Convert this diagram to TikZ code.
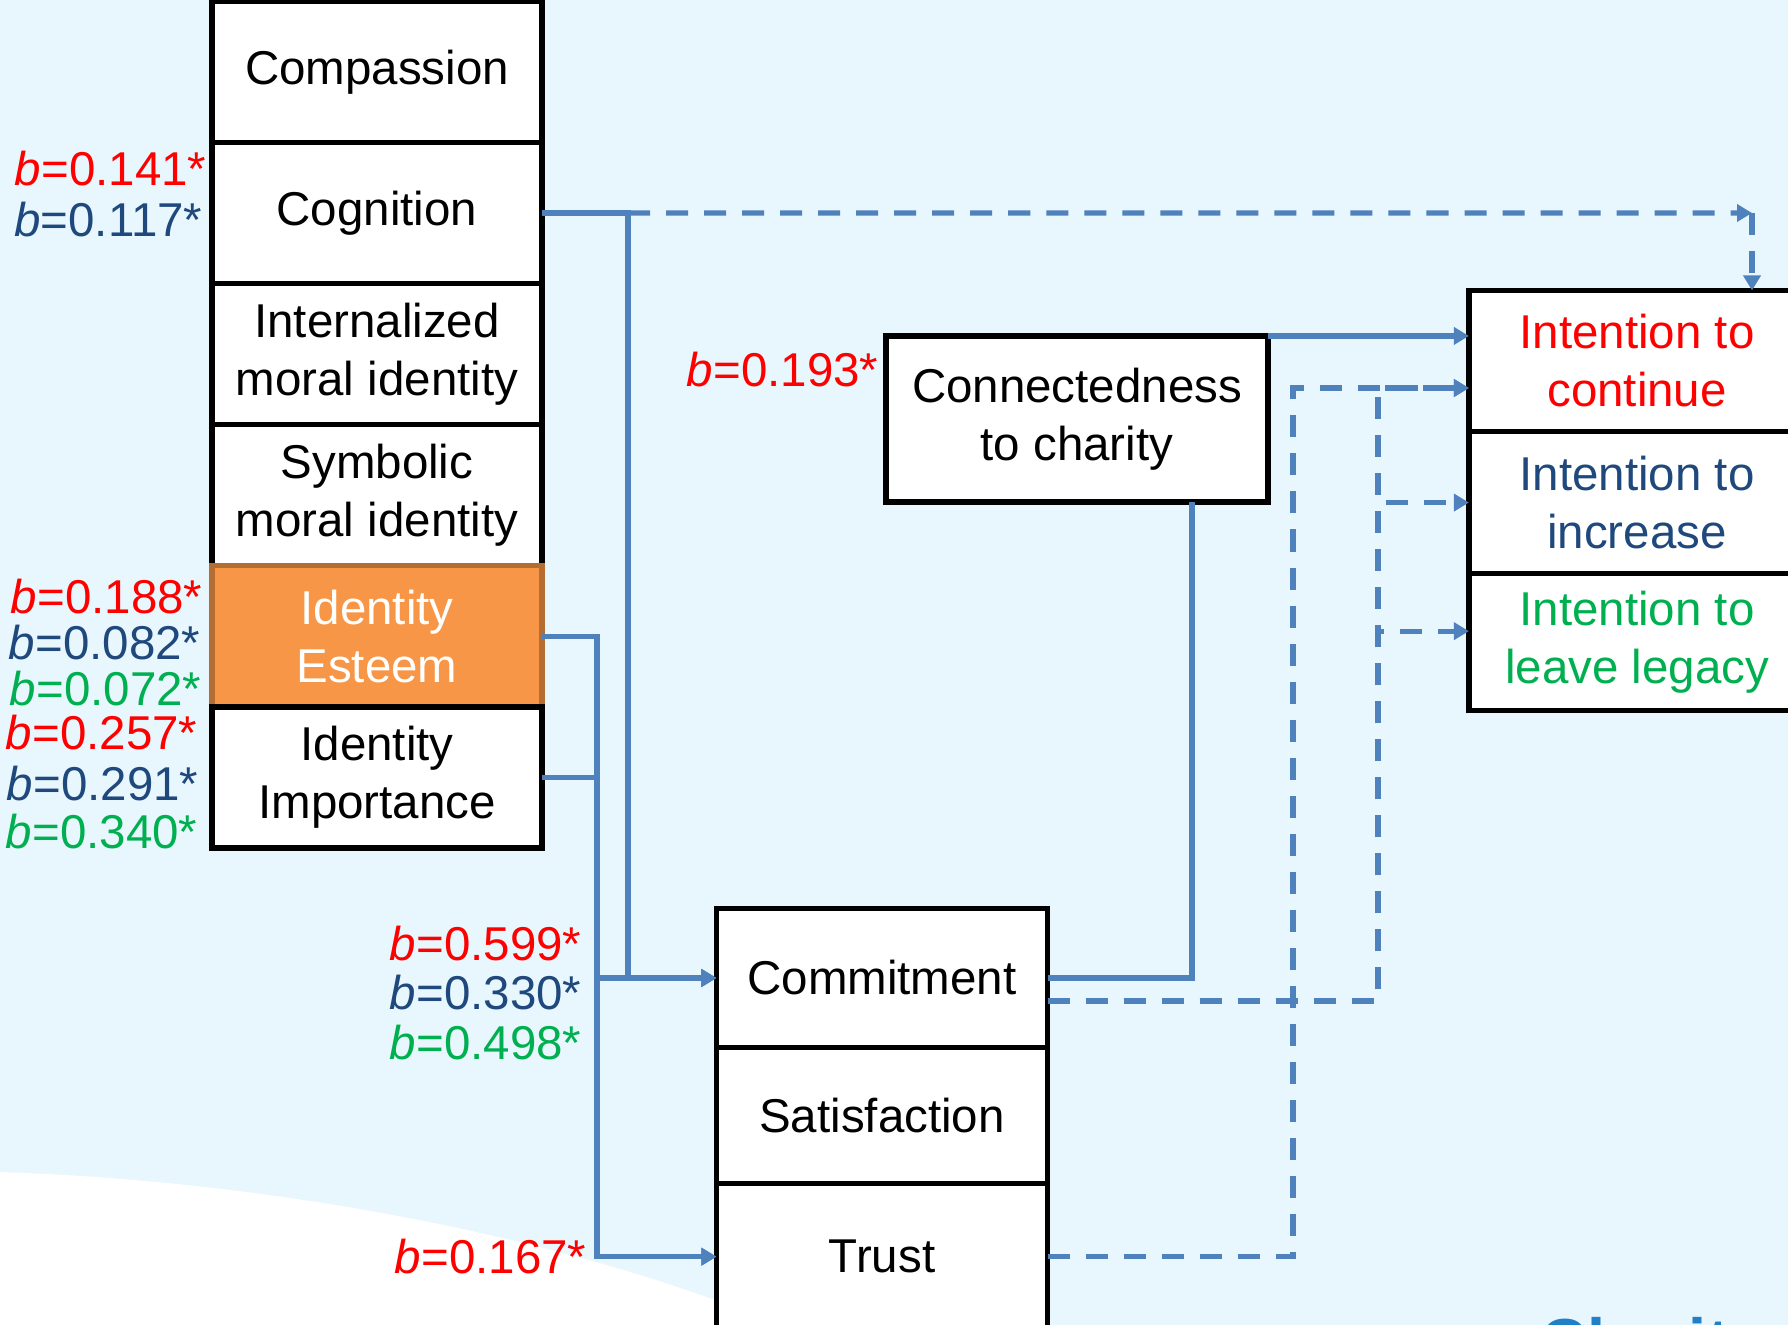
\documentclass[tikz,border=0pt]{standalone}
\usepackage{fontspec}
\setmainfont{Liberation Sans}
\usetikzlibrary{positioning}
\usetikzlibrary{arrows.meta}

\definecolor{bred}{HTML}{FF0000}
\definecolor{bblue}{HTML}{1F497D}
\definecolor{bgreen}{HTML}{00B050}
\definecolor{linkblue}{HTML}{4F81BD}
\definecolor{esteemfill}{HTML}{F79646}
\definecolor{esteemline}{HTML}{B66D31}
\definecolor{bgblue}{HTML}{E8F6FD}
\definecolor{titleblue}{HTML}{1F80C8}

\begin{document}
\begin{tikzpicture}[
        x=0.01cm, y=-0.01cm,
        node distance=0pt,
        factor/.style={rectangle, draw, line width=1.5pt, fill=white, outer sep=0pt, inner sep=0pt, align=center, font=\fontsize{13.5}{16.5}\selectfont},
        leftbox/.style={factor, minimum width=3.3cm, minimum height=1.41cm},
        rightbox/.style={factor, minimum width=3.36cm, minimum height=1.41cm},
        midbox/.style={factor, minimum width=3.31cm, minimum height=1.38cm},
        highlight/.style={leftbox, fill=esteemfill, draw=esteemline, text=white},
        coef/.style={anchor=east, inner sep=0pt, font=\fontsize{13.5}{16}\selectfont},
        link/.style={draw=linkblue, line width=1.5pt},
        linkarrow/.style={link, -{Triangle[length=0.15cm,width=0.17cm]}},
        dashlink/.style={linkarrow, dash pattern=on 0.22cm off 0.16cm}
    ]
        \useasboundingbox (0,0) rectangle (1788,1325);
        \clip (0,0) rectangle (1788,1325);
        \fill[bgblue] (0,0) rectangle (1788,1325);
        \fill[white] (0,1172) .. controls (250,1180) and (550,1230) .. (780,1325) -- (0,1325) -- cycle;
        \node[anchor=base west, inner sep=0pt, text=titleblue, font=\fontsize{18.5}{20}\selectfont\bfseries] (brand) at (1540,1364) {Charity};

        % left column
        \node[leftbox] (compassion) at (377,72) {Compassion};
        \node[leftbox, below=of compassion] (cog) {Cognition};
        \node[leftbox, below=of cog] (intmoral) {Internalized\\moral identity};
        \node[leftbox, below=of intmoral] (symmoral) {Symbolic\\moral identity};
        \node[highlight, below=of symmoral] (est) {Identity\\Esteem};
        \node[leftbox, below=of est] (imp) {Identity\\Importance};

        % middle
        \node[factor, minimum width=3.82cm, minimum height=1.66cm] (conn) at (1077,419) {Connectedness\\to charity};
        \node[midbox, minimum height=1.39cm] (commit) at (882,978) {Commitment};
        \node[midbox, minimum height=1.36cm, below=of commit] (satis) {Satisfaction};
        \node[midbox, minimum height=1.46cm, below=of satis] (trust) {Trust};

        % outcomes
        \node[rightbox, text=bred] (cont) at (1637,361) {Intention to\\continue};
        \node[rightbox, minimum height=1.42cm, text=bblue, below=of cont] (incr) {Intention to\\increase};
        \node[rightbox, minimum height=1.37cm, text=bgreen, below=of incr] (legacy) {Intention to\\leave legacy};

        % coefficients
        \node[coef, text=bred] (c141) at (207,169) {\textit{b}=0.141*};
        \node[coef, text=bblue] (c117) at (203,220) {\textit{b}=0.117*};
        \node[coef, text=bred] (c188) at (203,597) {\textit{b}=0.188*};
        \node[coef, text=bblue] (c082) at (201,643) {\textit{b}=0.082*};
        \node[coef, text=bgreen] (c072) at (202,689) {\textit{b}=0.072*};
        \node[coef, text=bred] (c257) at (198,733) {\textit{b}=0.257*};
        \node[coef, text=bblue] (c291) at (199,784) {\textit{b}=0.291*};
        \node[coef, text=bgreen] (c340) at (198,832) {\textit{b}=0.340*};
        \node[coef, text=bred] (c193) at (879,370) {\textit{b}=0.193*};
        \node[coef, text=bred] (c599) at (582,944) {\textit{b}=0.599*};
        \node[coef, text=bblue] (c330) at (582,993) {\textit{b}=0.330*};
        \node[coef, text=bgreen] (c498) at (582,1043) {\textit{b}=0.498*};
        \node[coef, text=bred] (c167) at (587,1257) {\textit{b}=0.167*};

        \coordinate (bus1) at (628,0);
        \coordinate (bus2) at (597,0);
        \coordinate (bus3) at (1192,0);
        \coordinate (bus4) at (1293,0);
        \coordinate (bus5) at (1378,0);
        \coordinate (turn) at (1752,213);
        \coordinate (cmout) at ([yshift=-0.23cm]commit.east);
        \coordinate (contin) at ([yshift=-0.27cm]cont.west);
        \coordinate (legin) at ([yshift=0.11cm]legacy.west);

        % solid paths
        \draw[linkarrow] (cog.east) -| (bus1 |- commit.west) -- (commit.west);
        \draw[linkarrow] (est.east) -| (bus2 |- commit.west) -- (commit.west);
        \draw[linkarrow] (est.east) -| (bus2 |- trust.west) -- (trust.west);
        \draw[linkarrow] (imp.east) -| (bus2 |- commit.west) -- (commit.west);
        \draw[linkarrow] (imp.east) -| (bus2 |- trust.west) -- (trust.west);
        \draw[link] (commit.east) -| (bus3 |- conn.south);
        \draw[linkarrow] (conn.north east) -- (conn.north east -| cont.west);

        % dashed paths
        \draw[dashlink] (cog.east -| bus1) -- (turn);
        \draw[dashlink] (turn) -- (turn |- cont.north);
        \draw[dashlink] (cmout) -| (bus5 |- contin) -- (contin);
        \draw[dashlink] (cmout) -| (bus5 |- incr.west) -- (incr.west);
        \draw[dashlink] (cmout) -| (bus5 |- legin) -- (legin);
        \draw[dashlink] (trust.east) -| (bus4 |- contin) -- (contin);
    \end{tikzpicture}
\end{document}
